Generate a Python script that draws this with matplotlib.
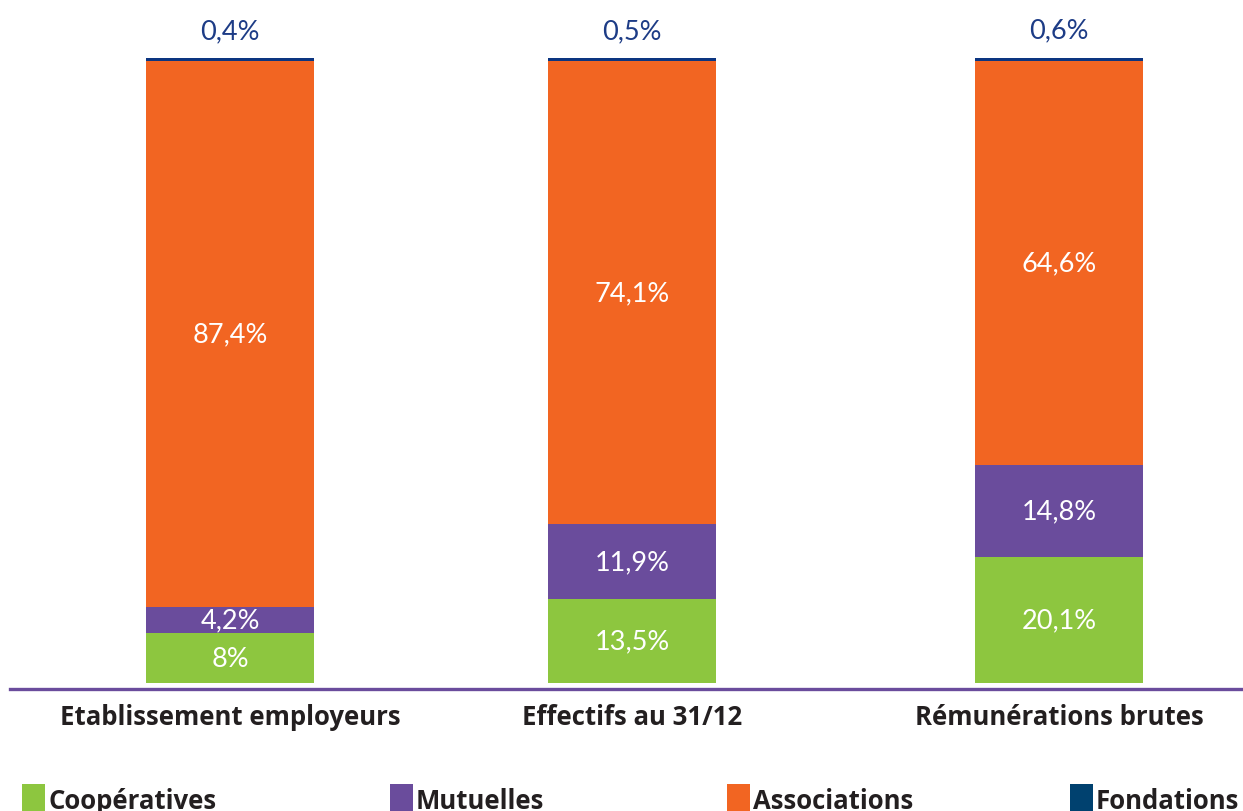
import matplotlib
matplotlib.use("Agg")
import matplotlib.pyplot as plt
from matplotlib.patches import Rectangle
import numpy as np

# Répartition de l'ESS par famille (en %)
categories = ['Etablissement employeurs', 'Effectifs au 31/12', 'Rémunérations brutes']
familles = ['Coopératives', 'Mutuelles', 'Associations', 'Fondations']
cooperatives = [8, 13.5, 20.1]
mutuelles = [4.2, 11.9, 14.8]
associations = [87.4, 74.1, 64.6]
fondations = [0.4, 0.5, 0.6]

couleurs = ['#8dc63f', '#6a4c9c', '#f26522', '#0c3580']
couleurs_legende = ['#8dc63f', '#6a4c9c', '#f26522', '#00416f']
police = ['Lato', 'DejaVu Sans']
police_gras = ['Open Sans', 'DejaVu Sans']

def fmt(v):
    return f"{v:g}".replace('.', ',') + '%'

W, H = 1243, 812
fig = plt.figure(figsize=(W / 100, H / 100), dpi=100)
ax = fig.add_axes([10 / W, 1 - 690 / H, 1 - 10 / W, 690 / H])

pos = [230, 632, 1059]
largeur = 168
ax.set_xlim(10, 1243)
ax.set_ylim(-0.96, 109.5)

series = [cooperatives, mutuelles, associations, fondations]
bas = np.zeros(len(categories))
for i, (vals, coul) in enumerate(zip(series, couleurs)):
    bars = ax.bar(pos, vals, largeur, bottom=bas, color=coul, linewidth=0)
    for b, v, y0 in zip(bars, vals, bas):
        if i < 3:
            ax.text(b.get_x() + largeur / 2, y0 + v / 2, fmt(v), color='white',
                    ha='center', va='center', fontsize=19.5, family=police)
        else:
            ax.annotate(fmt(v), (b.get_x() + largeur / 2, y0 + v), xytext=(0, 11),
                        textcoords='offset points', color='#1d3c86',
                        ha='center', va='bottom', fontsize=19.5, family=police)
    bas = bas + np.array(vals)

for s in ['top', 'left', 'right']:
    ax.spines[s].set_visible(False)
ax.spines['bottom'].set_color('#6a4c9c')
ax.spines['bottom'].set_linewidth(2.4)
ax.set_yticks([])
ax.set_xticks([])

for x, cat in zip(pos, categories):
    ax.text(x, -(718 - 690) / 690, cat, transform=ax.get_xaxis_transform(),
            ha='center', va='center', fontsize=18.5, fontweight='bold',
            color='#231f20', family=police_gras)

# légende en bas, tronquée par le bord de la figure
leg_x = [22, 390, 727, 1070]
for x, lab, coul in zip(leg_x, familles, couleurs_legende):
    fig.patches.append(Rectangle((x / W, 0), 23 / W, (812 - 785) / H,
                                 transform=fig.transFigure, color=coul, linewidth=0))
    fig.text((x + 26) / W, (812 - 809) / H, lab, ha='left', va='baseline',
             fontsize=18.5, fontweight='bold', color='#231f20', family=police_gras)

fig.savefig('out.png', dpi=100)
